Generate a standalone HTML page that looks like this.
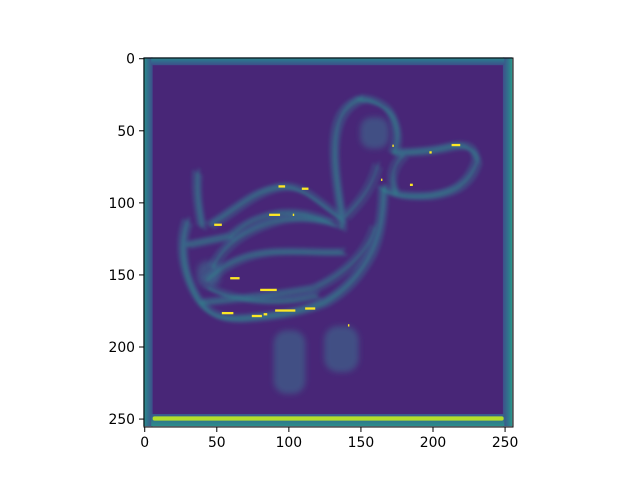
<!DOCTYPE html>
<html><head><meta charset="utf-8"><style>
html,body{margin:0;padding:0;background:#fff;}
svg text{font-family:"DejaVu Sans","Liberation Sans",sans-serif;font-size:13.9px;fill:#000;}
</style></head><body>
<svg id="chart" width="640" height="480" viewBox="0 0 640 480" xmlns="http://www.w3.org/2000/svg">
<defs>
<filter id="blur" x="-20%" y="-20%" width="140%" height="140%"><feGaussianBlur stdDeviation="1.1"/></filter>
<filter id="blurb" x="-30%" y="-30%" width="160%" height="160%"><feGaussianBlur stdDeviation="2"/></filter>
<linearGradient id="gl" x1="0" x2="1" y1="0" y2="0"><stop offset="0" stop-color="#2a9a88"/><stop offset="0.3" stop-color="#2e7d8d"/><stop offset="1" stop-color="#3d4f8a"/></linearGradient>
<linearGradient id="gr" x1="1" x2="0" y1="0" y2="0"><stop offset="0" stop-color="#2a9a88"/><stop offset="0.3" stop-color="#2e7d8d"/><stop offset="1" stop-color="#3d4f8a"/></linearGradient>
<linearGradient id="gt" x1="0" x2="0" y1="0" y2="1"><stop offset="0" stop-color="#2a8f8b"/><stop offset="0.4" stop-color="#2f708e"/><stop offset="1" stop-color="#3d4f8a"/></linearGradient>
<linearGradient id="gb" x1="0" x2="0" y1="1" y2="0"><stop offset="0" stop-color="#2a8f8b"/><stop offset="1" stop-color="#3a5a8c"/></linearGradient>
<clipPath id="clip"><rect x="-0.5" y="-0.5" width="256" height="256"/></clipPath>
</defs>
<g id="img" transform="translate(144,58) scale(1.4414)">
 <g clip-path="url(#clip)">
  <rect x="-0.5" y="-0.5" width="256" height="256" fill="#482677"/>
  <rect x="-0.5" y="-0.5" width="6.5" height="256" fill="url(#gl)"/>
  <rect x="249" y="-0.5" width="6.5" height="256" fill="url(#gr)"/>
  <rect x="5" y="-0.5" width="245" height="5.5" fill="url(#gt)"/>
  <rect x="5" y="247" width="245" height="8.5" fill="url(#gb)"/>
  <g id="blobs" filter="url(#blurb)"></g>
  <g id="duck" filter="url(#blur)" fill="none" stroke-linecap="round" stroke-linejoin="round"></g>
  <g id="marks"></g>
  <rect x="6" y="248.6" width="243.5" height="3" rx="1.3" fill="#b5de2b"/>
 </g>
</g>
<rect x="144" y="58" width="369" height="369" fill="none" stroke="#000" stroke-width="1"/>
<g id="xt"></g>
<g id="yt"></g>
</svg>
<script>
const tickValues=[0,50,100,150,200,250];
const strokePaths=[
 "M150,29 C135,35 130,50 133,80 C135,100 138,110 137,118",
 "M137,112 C120,100 110,88 94,90 C75,93 65,105 46,116",
 "M37,80 C36,95 38,105 40,117",
 "M30,114 C24,130 27,150 37,167 C45,180 55,182 70,181 C95,179 110,176 125,170 C140,162 150,150 158,135 C165,120 166,100 166,91",
 "M166,91 C172,96 185,97 198,96 C212,94 225,90 231,72 C230,62 222,60 212,62 C200,65 185,66 173,66 C178,55 175,40 166,34 C160,30 155,29 150,29",
 "M44,154 C60,140 75,136 90,135 C110,134 125,136 138,135",
 "M48,145 C55,130 70,120 90,114 C105,110 118,112 130,115",
 "M60,124 C70,115 80,110 95,108 C110,107 120,110 132,116",
 "M30,130 C40,128 55,125 60,124",
 "M40,170 C60,168 90,165 118,160 C140,150 155,135 160,118",
 "M175,94 C170,85 172,75 180,68",
 "M140,110 C150,100 158,90 162,75",
 "M45,160 C70,172 100,170 120,165"
];
const strokeWidths=[2.2,2,2,2.4,2.2,1.8,1.8,1.6,1.8,1.6,1.6,1.6,1.6];
const blobs=[[101,211,22,44],[137,202,24,32],[160,52,20,22],[45,150,16,18]];
const markX=[93.3,109.5,86.8,103.2,48.7,59.8,80.6,54,74.8,83,91,111.8,213.4,198,184.5,172.3,164.4,141.5];
const markY=[89.1,90.7,108.8,108.8,115.7,152.8,160.9,177,179,177.8,175.2,173.8,60.4,65.5,88,60.9,84.5,185.5];
const markW=[4.6,4.6,7.6,1,5.3,6.5,11.5,8,7,2.5,14,7,6,1.6,2,1,1,1];
const NS="http://www.w3.org/2000/svg";
const duck=document.getElementById('duck');
const offs=[[-2.5,-1.5],[0,0],[2.5,1.5],[1,-2.5]];
strokePaths.forEach((d,i)=>{
 offs.forEach((o,k)=>{
  const p=document.createElementNS(NS,'path');
  
  
  p.setAttribute('d',d);
  p.setAttribute('transform','translate('+o[0]+','+o[1]+')');
  p.setAttribute('stroke',k===1?'#2f8a8c':'#3a6a8d');
  p.setAttribute('stroke-width',strokeWidths[i]);
  p.setAttribute('opacity',k===1?0.7:0.5);
  duck.appendChild(p);
 });
});
const bg=document.getElementById('blobs');
blobs.forEach(b=>{
 const e=document.createElementNS(NS,'rect');
 
 
 e.setAttribute('x',b[0]-b[2]/2);e.setAttribute('y',b[1]-b[3]/2);e.setAttribute('width',b[2]);e.setAttribute('height',b[3]);
 e.setAttribute('rx',b[2]/2.5);
 e.setAttribute('fill','#3a6a8d');e.setAttribute('opacity','0.6');
 bg.appendChild(e);
});
const mg=document.getElementById('marks');
markX.forEach((x,i)=>{
 const r=document.createElementNS(NS,'rect');
 
 
 r.setAttribute('x',x);r.setAttribute('y',markY[i]-0.8);r.setAttribute('width',markW[i]);r.setAttribute('height',1.6);
 r.setAttribute('fill','#fde725');
 mg.appendChild(r);
});
const sx=v=>144+(v+0.5)*369/256, sy=v=>58+(v+0.5)*369/256;
const xt=document.getElementById('xt'), yt=document.getElementById('yt');
tickValues.forEach(v=>{
 const l=document.createElementNS(NS,'line');
 
 
 l.setAttribute('x1',sx(v));l.setAttribute('x2',sx(v));l.setAttribute('y1',427);l.setAttribute('y2',432);l.setAttribute('stroke','#000');
 xt.appendChild(l);
 const t=document.createElementNS(NS,'text');
 
 
 t.setAttribute('x',sx(v));t.setAttribute('y',447);t.setAttribute('text-anchor','middle');t.textContent=v;
 xt.appendChild(t);
 const l2=document.createElementNS(NS,'line');
 
 
 l2.setAttribute('x1',139);l2.setAttribute('x2',144);l2.setAttribute('y1',sy(v));l2.setAttribute('y2',sy(v));l2.setAttribute('stroke','#000');
 yt.appendChild(l2);
 const t2=document.createElementNS(NS,'text');
 
 
 t2.setAttribute('x',135);t2.setAttribute('y',sy(v)+5);t2.setAttribute('text-anchor','end');t2.textContent=v;
 yt.appendChild(t2);
});
</script>
</body></html>
